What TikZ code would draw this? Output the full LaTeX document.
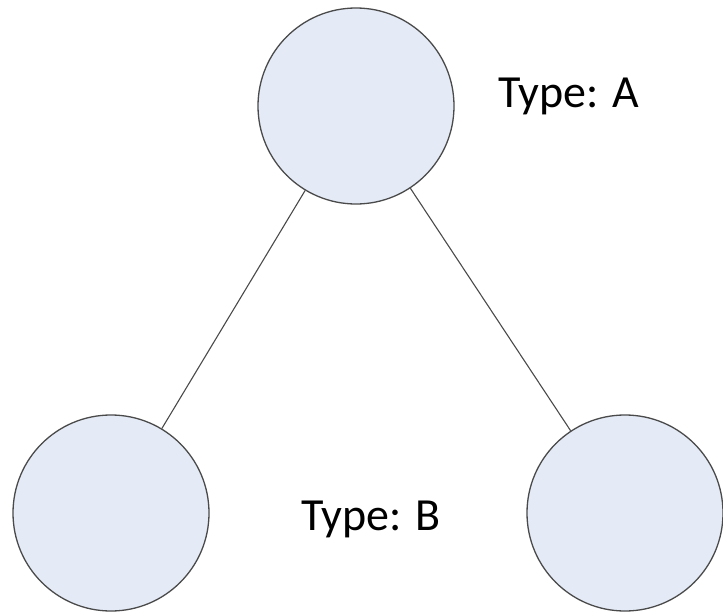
\documentclass[tikz,border=0pt]{standalone}
\usepackage{fontspec}
\setmainfont{Carlito}
\definecolor{nodefill}{HTML}{E4EBF6}
\definecolor{edgegray}{HTML}{4A4A4A}
\begin{document}
\begin{tikzpicture}[x=1pt,y=-1pt,
  vertex/.style={circle, draw=edgegray, fill=nodefill, line width=1.3pt, minimum size=196pt, inner sep=0pt},
  edge/.style={draw=edgegray, line width=1.1pt},
  typelabel/.style={anchor=base west, inner sep=0pt, font=\fontsize{46}{55}\selectfont}]
\useasboundingbox (0,0) rectangle (723,613);
\node[vertex] (top) at (356,106) {};
\node[vertex] (left) at (111,513) {};
\node[vertex] (right) at (625,513) {};
\draw[edge] (top) -- (left);
\draw[edge] (top) -- (right);
\node[typelabel] (ta) at (498,107) {Type: A};
\node[typelabel] (tb) at (301,530) {Type: B};
\end{tikzpicture}
\end{document}
